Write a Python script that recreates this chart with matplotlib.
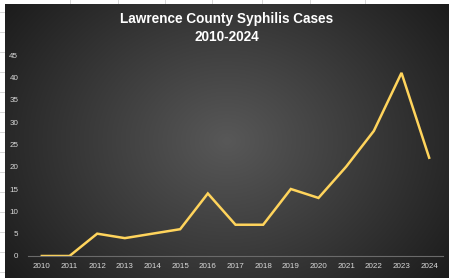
import numpy as np
import matplotlib
matplotlib.use("Agg")
import matplotlib.pyplot as plt

years = [2010, 2011, 2012, 2013, 2014, 2015, 2016, 2017, 2018, 2019, 2020, 2021, 2022, 2023, 2024]
cases = [0, 0, 5, 4, 5, 6, 14, 7, 7, 15, 13, 20, 28, 41, 22]
yticks = [0, 5, 10, 15, 20, 25, 30, 35, 40, 45]
title = "Lawrence County Syphilis Cases\n2010-2024"

W, H = 449, 278
fig = plt.figure(figsize=(W / 100, H / 100), dpi=100, facecolor="white")

# spreadsheet-like backdrop
bg0 = fig.add_axes([0, 0, 1, 1])
bg0.set_xlim(0, W); bg0.set_ylim(H, 0); bg0.axis("off")
for yy in range(12, H, 20):
    bg0.plot([0, 5], [yy, yy], color="#d0d0d0", lw=0.6)
for xx in [70, 118, 165, 212, 262, 310, 365]:
    bg0.plot([xx, xx], [0, 4], color="#d0d0d0", lw=0.6)

# dark radial gradient chart area
x0, y0 = 5, 4
bg = fig.add_axes([x0 / W, 0, (W - x0) / W, (H - y0) / H])
gx, gy = np.meshgrid(np.linspace(-1, 1, 400), np.linspace(-1, 1, 250))
r = np.sqrt(gx ** 2 + (gy * 0.75) ** 2)
r = np.clip(r / 1.25, 0, 1)
c0 = np.array([0x58, 0x58, 0x58]) / 255
c1 = np.array([0x1c, 0x1c, 0x1c]) / 255
img = c0[None, None, :] * (1 - r[..., None]) + c1[None, None, :] * r[..., None]
bg.imshow(img, aspect="auto", extent=[0, 1, 0, 1], interpolation="bilinear")
bg.axis("off")

fig.text(0.5 + 2.5 / W, 1 - 28 / H, title, ha="center", va="center", color="white",
         fontsize=9.8, fontweight="bold", family="Liberation Sans", linespacing=1.45)

ax = fig.add_axes([28 / W, 22 / H, 415 / W, 201 / H])
ax.set_facecolor("none")
ax.plot(years, cases, color="#FFD45C", lw=1.8, solid_joinstyle="miter")
ax.set_xlim(2009.5, 2024.5)
ax.set_ylim(0, 45)
ax.set_xticks(years)
ax.set_xticklabels([str(y) for y in years])
ax.set_yticks(yticks)
for s in ["top", "right", "left"]:
    ax.spines[s].set_visible(False)
ax.spines["bottom"].set_color("#6a6a6a")
ax.spines["bottom"].set_linewidth(0.8)
ax.tick_params(axis="both", length=0, labelsize=5.8, colors="#d9d9d9", pad=5)
ax.tick_params(axis="y", pad=7)
for lab in ax.get_xticklabels() + ax.get_yticklabels():
    lab.set_family("Liberation Sans")

fig.savefig("out.png", dpi=100, facecolor="white")
